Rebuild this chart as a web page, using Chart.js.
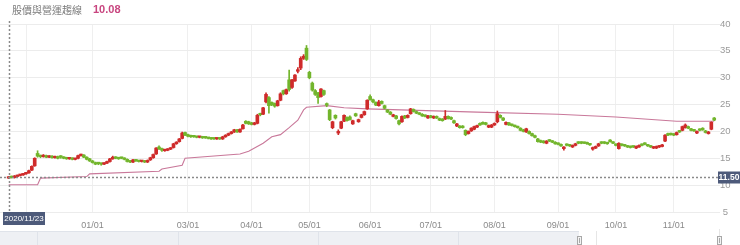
<!DOCTYPE html>
<html>
<head>
<meta charset="utf-8">
<script src="https://cdn.jsdelivr.net/npm/chart.js@4.4.1/dist/chart.umd.min.js"></script>
<style>
  html, body { margin: 0; padding: 0; background: #fff; }
  canvas { display: block; }
</style>
</head>
<body>
<canvas id="chart" width="740" height="245"></canvas>
<script>
// daily candles, index 0 = 2020/11/23
var opens = [
  11.3, 11.6, 11.4, 11.6, 11.8, 11.9, 12.1, 12.3, 12.8, 13.6,
  15.9, 15.5, 15.3, 15.5, 15.2, 15.4, 15.1, 15.3, 15.3, 15.2,
  15.1, 14.9, 15.0, 14.8, 15.0, 15.5, 15.6, 15.2, 14.9, 14.5,
  14.2, 14.1, 14.0, 13.9, 14.1, 14.4, 14.9, 15.2, 15.1, 15.1,
  15.0, 14.8, 14.5, 14.3, 14.7, 14.5, 14.4, 14.5, 14.3, 14.7,
  15.1, 15.8, 17.1, 16.8, 16.4, 16.5, 16.7, 17.0, 17.7, 18.1,
  18.7, 19.8, 19.4, 19.2, 19.1, 19.0, 18.9, 19.0, 18.9, 18.8,
  18.8, 18.7, 18.6, 18.7, 18.6, 19.0, 19.3, 19.6, 19.9, 20.3,
  19.9, 20.5, 21.9, 21.8, 21.6, 21.3, 21.5, 23.3, 23.2, 25.5,
  26.3, 25.4, 25.2, 24.8, 25.8, 27.6, 27.0, 29.6, 28.2, 29.4,
  31.2, 31.8, 33.6, 35.5, 31.0, 29.0, 27.6, 27.2, 26.5, 27.6,
  25.0, 24.0, 20.7, 23.0, 19.7, 20.6, 21.9, 22.6, 22.7, 21.4,
  23.3, 21.8, 22.6, 23.1, 24.2, 26.5, 25.9, 25.4, 24.8, 25.6,
  24.8, 24.0, 23.6, 22.8, 22.9, 22.0, 21.8, 22.9, 22.6, 23.3,
  24.1, 23.7, 23.4, 23.2, 23.0, 22.5, 22.9, 22.5, 22.8, 22.4,
  22.3, 22.3, 22.8, 22.6, 22.0, 21.0, 21.0, 21.0, 20.2, 19.6,
  20.1, 20.4, 20.8, 21.5, 21.7, 21.6, 20.8, 20.8, 21.2, 21.8,
  23.0, 22.5, 21.3, 21.6, 21.3, 21.1, 20.9, 20.6, 20.3, 19.9,
  20.0, 19.6, 19.2, 18.6, 18.3, 18.2, 17.8, 18.4, 18.2, 18.0,
  17.8, 17.6, 16.8, 17.6, 17.5, 17.1, 17.4, 18.0, 18.0, 17.9,
  17.9, 17.7, 16.7, 16.9, 17.3, 18.0, 18.0, 17.9, 18.4, 18.0,
  17.6, 16.8, 17.6, 17.5, 17.3, 17.2, 17.2, 16.9, 17.1, 17.6,
  17.8, 17.5, 17.3, 16.9, 16.9, 17.1, 17.2, 18.2, 19.6, 19.6,
  19.5, 19.4, 20.1, 20.2, 20.7, 20.9, 20.5, 20.3, 19.7, 20.4,
  20.6, 20.1, 19.6, 20.4, 22.5
]
var closes = [
  11.5, 11.4, 11.7, 11.8, 11.9, 12.1, 12.3, 12.7, 13.5, 15.0,
  15.4, 15.3, 15.5, 15.2, 15.4, 15.1, 15.3, 15.0, 15.2, 15.0,
  14.9, 15.0, 14.8, 14.9, 15.5, 15.6, 15.2, 14.8, 14.5, 14.2,
  13.9, 14.0, 13.9, 14.1, 14.4, 14.9, 15.2, 15.0, 14.9, 15.0,
  14.8, 14.4, 14.3, 14.7, 14.5, 14.4, 14.5, 14.3, 14.6, 15.1,
  15.7, 16.9, 16.8, 16.5, 16.6, 16.7, 16.9, 17.7, 18.0, 18.6,
  19.7, 19.3, 19.1, 19.0, 19.0, 18.9, 19.0, 18.8, 18.8, 18.7,
  18.6, 18.6, 18.7, 18.6, 19.0, 19.3, 19.6, 19.9, 20.3, 19.9,
  20.4, 21.2, 21.5, 21.4, 21.3, 21.6, 23.0, 23.1, 24.4, 26.9,
  24.8, 25.0, 24.7, 25.7, 27.0, 27.0, 27.8, 27.8, 29.6, 30.5,
  31.5, 33.6, 34.0, 33.4, 30.0, 27.7, 26.9, 26.3, 27.9, 26.9,
  24.9, 22.2, 21.8, 22.5, 20.0, 21.8, 23.0, 22.0, 22.2, 22.0,
  22.9, 22.2, 23.1, 23.7, 25.8, 25.9, 25.5, 24.9, 25.5, 25.2,
  24.3, 23.6, 23.2, 23.1, 22.4, 21.4, 22.8, 22.5, 23.0, 24.2,
  23.7, 23.4, 23.2, 22.9, 22.8, 22.9, 22.6, 22.8, 22.5, 22.1,
  22.0, 22.8, 22.4, 22.3, 21.6, 21.4, 20.7, 20.7, 19.4, 20.0,
  20.6, 20.9, 21.1, 21.2, 21.4, 21.3, 21.1, 21.2, 21.5, 23.3,
  22.6, 22.1, 21.7, 21.2, 21.1, 20.9, 20.7, 20.2, 20.0, 20.5,
  19.6, 19.2, 18.9, 18.1, 18.0, 17.9, 18.2, 18.2, 18.0, 17.7,
  17.6, 17.3, 17.1, 17.4, 17.3, 17.4, 17.7, 17.8, 17.8, 17.8,
  17.7, 17.5, 17.0, 17.2, 17.7, 17.8, 17.8, 17.7, 18.1, 17.8,
  17.4, 17.8, 17.4, 17.3, 17.1, 17.0, 17.1, 17.2, 17.4, 17.4,
  17.6, 17.3, 17.1, 17.1, 17.2, 17.3, 17.5, 19.3, 19.3, 19.4,
  19.3, 19.8, 19.9, 20.9, 21.2, 20.6, 20.2, 20.1, 20.0, 20.2,
  20.3, 19.8, 19.9, 21.7, 22.1
]
var highs = [
  11.6, 11.7, 11.8, 11.9, 12.0, 12.2, 12.4, 12.8, 13.6, 15.1,
  16.4, 15.6, 15.7, 15.6, 15.5, 15.5, 15.4, 15.4, 15.5, 15.3,
  15.2, 15.1, 15.1, 15.0, 15.6, 15.8, 15.7, 15.3, 15.0, 14.6,
  14.3, 14.2, 14.1, 14.2, 14.5, 15.0, 15.4, 15.3, 15.2, 15.2,
  15.1, 14.9, 14.6, 14.8, 14.8, 14.6, 14.6, 14.6, 14.7, 15.2,
  15.8, 17.0, 17.3, 16.9, 16.7, 16.8, 17.0, 17.8, 18.1, 18.7,
  19.9, 19.9, 19.5, 19.3, 19.2, 19.1, 19.1, 19.1, 19.0, 18.9,
  18.9, 18.8, 18.8, 18.8, 19.1, 19.4, 19.7, 20.0, 20.4, 20.4,
  20.5, 21.3, 22.0, 21.9, 21.7, 21.7, 23.2, 23.4, 24.5, 27.2,
  26.5, 25.5, 25.3, 25.8, 27.2, 27.7, 27.9, 31.4, 29.7, 30.6,
  31.9, 33.9, 34.3, 36.0, 31.2, 29.2, 27.8, 27.3, 28.0, 27.7,
  25.3, 24.1, 21.9, 23.1, 20.3, 21.9, 23.1, 22.7, 22.9, 22.1,
  23.4, 22.3, 23.2, 23.8, 25.9, 26.8, 26.0, 25.5, 25.8, 25.7,
  24.9, 24.1, 23.7, 23.2, 23.0, 22.1, 22.9, 23.0, 23.1, 24.3,
  24.2, 23.8, 23.5, 23.3, 23.1, 23.0, 23.0, 22.9, 22.9, 22.5,
  22.4, 23.9, 22.9, 22.7, 22.1, 21.5, 21.1, 21.1, 20.3, 20.1,
  20.7, 21.0, 21.2, 21.6, 21.8, 21.7, 21.2, 21.3, 21.6, 23.8,
  23.1, 22.6, 21.8, 21.7, 21.4, 21.2, 21.0, 20.7, 20.4, 20.6,
  20.1, 19.7, 19.3, 18.7, 18.4, 18.3, 18.3, 18.5, 18.3, 18.1,
  17.9, 17.7, 17.2, 17.7, 17.6, 17.5, 17.8, 18.1, 18.1, 18.0,
  18.0, 17.8, 17.1, 17.3, 17.8, 18.1, 18.1, 18.0, 18.5, 18.1,
  17.7, 17.9, 17.7, 17.6, 17.4, 17.3, 17.3, 17.3, 17.5, 17.7,
  17.9, 17.6, 17.4, 17.2, 17.3, 17.4, 17.6, 19.4, 19.7, 19.7,
  19.6, 19.9, 20.2, 21.0, 21.4, 21.0, 20.6, 20.4, 20.1, 20.5,
  20.7, 20.2, 20.0, 21.8, 22.6
]
var lows = [
  11.2, 11.3, 11.3, 11.5, 11.7, 11.8, 12.0, 12.2, 12.7, 13.5,
  15.2, 15.1, 15.2, 15.1, 15.1, 15.0, 15.0, 14.9, 15.0, 14.9,
  14.8, 14.8, 14.7, 14.7, 14.9, 15.4, 15.1, 14.7, 14.4, 14.1,
  13.8, 13.8, 13.7, 13.8, 14.0, 14.3, 14.8, 14.9, 14.8, 14.9,
  14.7, 14.3, 14.2, 14.2, 14.4, 14.3, 14.3, 14.2, 14.2, 14.6,
  15.0, 15.7, 16.6, 16.3, 16.3, 16.4, 16.6, 16.9, 17.6, 18.0,
  18.6, 19.2, 19.0, 18.9, 18.9, 18.8, 18.8, 18.7, 18.7, 18.6,
  18.5, 18.5, 18.5, 18.5, 18.5, 18.9, 19.2, 19.5, 19.8, 19.8,
  19.8, 20.4, 21.4, 21.3, 21.2, 21.2, 21.4, 22.9, 23.1, 25.3,
  23.4, 24.8, 24.5, 24.7, 25.7, 26.8, 26.9, 27.5, 28.0, 29.3,
  30.9, 31.5, 33.4, 33.2, 29.8, 27.5, 26.7, 25.2, 26.4, 26.7,
  24.6, 22.0, 20.5, 22.3, 19.4, 20.5, 21.8, 21.9, 22.1, 21.3,
  22.8, 21.7, 22.5, 23.0, 24.1, 25.8, 25.3, 24.8, 24.7, 25.1,
  24.2, 23.5, 23.1, 22.7, 22.3, 21.2, 21.7, 22.4, 22.5, 23.2,
  23.6, 23.3, 23.1, 22.8, 22.7, 22.4, 22.5, 22.4, 22.4, 22.0,
  21.9, 22.2, 22.3, 22.2, 21.5, 20.9, 20.6, 20.6, 19.2, 19.5,
  20.0, 20.3, 20.7, 21.1, 21.3, 21.2, 20.7, 20.7, 21.1, 21.6,
  22.5, 22.0, 21.2, 21.1, 21.0, 20.8, 20.6, 20.1, 19.9, 19.8,
  19.5, 19.1, 18.8, 18.0, 17.9, 17.8, 17.7, 18.1, 17.9, 17.6,
  17.5, 17.2, 16.5, 17.3, 17.2, 17.0, 17.3, 17.7, 17.7, 17.7,
  17.6, 17.4, 16.5, 16.8, 17.2, 17.7, 17.7, 17.6, 18.0, 17.7,
  17.3, 16.7, 17.3, 17.2, 17.0, 16.9, 17.0, 16.8, 17.0, 17.3,
  17.5, 17.2, 17.0, 16.8, 16.8, 17.0, 17.1, 18.1, 19.2, 19.3,
  19.2, 19.3, 19.8, 20.1, 20.6, 20.5, 20.1, 20.0, 19.6, 20.1,
  20.2, 19.7, 19.5, 20.3, 22.0
]

// pink trend line, vertices as [day index, price]
var lineIdx = [0, 10, 11, 27, 28, 52, 53, 60, 61, 80, 83, 88, 91, 94, 97, 100, 102, 103, 110, 116, 124, 162, 190, 210, 231, 244]
var lineVal = [10.08, 10.1, 11.3, 11.6, 12.1, 12.6, 13.0, 13.7, 15.0, 15.8, 16.3, 17.8, 19.0, 19.4, 20.7, 22.1, 24.0, 24.5, 24.8, 24.4, 24.2, 23.6, 23.2, 22.7, 21.9, 21.9]

// month ticks on the day index axis
var tickIdx = [6, 29, 62, 84, 104, 125, 146, 168, 190, 210, 230]
var tickLabels = ['', '01/01', '03/01', '04/01', '05/01', '06/01', '07/01', '08/01', '09/01', '10/01', '11/01']

var yTicks = [5, 10, 15, 20, 25, 30, 35, 40]

var title = '股價與營運趨線'
var titleValue = '10.08'
var crossIdx = 0
var crossDate = '2020/11/23'
var crossPrice = 11.5

var RED = '#cf2b2b'
var GREEN = '#72b52c'
var PINK = '#c9789a'

function candleColor(i) {
  return closes[i] >= opens[i] ? RED : GREEN
}

var wickData = opens.map(function (o, i) { return { x: i, y: [lows[i], highs[i]] } })
var bodyData = opens.map(function (o, i) { return { x: i, y: [o, closes[i]] } })
var lineData = lineIdx.map(function (v, k) { return { x: v, y: lineVal[k] } })
var colors = opens.map(function (o, i) { return candleColor(i) })

Chart.defaults.font.family = '"Liberation Sans", Arial, sans-serif'

var overlay = {
  id: 'overlay',
  beforeDraw: function (chart) {
    var ctx = chart.ctx
    ctx.save()
    ctx.fillStyle = '#fff'
    ctx.fillRect(0, 0, chart.width, chart.height)
    ctx.restore()
  },
  afterDraw: function (chart) {
    var ctx = chart.ctx
    var xs = chart.scales.x
    var ys = chart.scales.y
    var area = chart.chartArea
    ctx.save()

    // header
    ctx.textBaseline = 'middle'
    ctx.textAlign = 'left'
    ctx.fillStyle = '#7a7a7a'
    ctx.font = '10px "Noto Sans CJK TC", sans-serif'
    ctx.fillText(title, 12, 10)
    ctx.fillStyle = '#c8457f'
    ctx.font = 'bold 11px "Liberation Sans", Arial, sans-serif'
    ctx.fillText(titleValue, 93, 10)

    // crosshair
    var cx = Math.round(xs.getPixelForValue(crossIdx)) + 0.5
    var cy = Math.round(ys.getPixelForValue(crossPrice)) + 0.5
    ctx.strokeStyle = '#8a8a8a'
    ctx.lineWidth = 1.5
    ctx.setLineDash([2, 2])
    ctx.beginPath()
    ctx.moveTo(cx, 21)
    ctx.lineTo(cx, area.bottom)
    ctx.moveTo(0, cy)
    ctx.lineTo(area.right - 2, cy)
    ctx.stroke()
    ctx.setLineDash([])

    ctx.fillStyle = '#4d5a7a'
    ctx.fillRect(718, cy - 6, 22, 12)
    ctx.fillRect(3, area.bottom, 42, 13)
    ctx.fillStyle = '#fff'
    ctx.textAlign = 'center'
    ctx.font = 'bold 8.5px "Liberation Sans", Arial, sans-serif'
    ctx.fillText(crossPrice.toFixed(2), 729, cy + 0.5)
    ctx.font = '8px "Liberation Sans", Arial, sans-serif'
    ctx.fillText(crossDate, 24, area.bottom + 7)

    // navigator strip
    var ny = 231
    ctx.fillStyle = '#eef0f4'
    ctx.fillRect(0, ny, 579, chart.height - ny)
    ctx.strokeStyle = '#dfe3ea'
    ctx.lineWidth = 1
    ctx.beginPath()
    ctx.moveTo(0, ny + 0.5)
    ctx.lineTo(579, ny + 0.5)
    ;[37, 178, 318, 458].forEach(function (gx) {
      ctx.moveTo(gx + 0.5, ny)
      ctx.lineTo(gx + 0.5, chart.height)
    })
    ctx.stroke()
    ctx.strokeStyle = '#e6e6e6'
    ctx.beginPath()
    ctx.moveTo(596.5, ny)
    ctx.lineTo(596.5, chart.height)
    ctx.moveTo(719.5, ny - 2)
    ctx.lineTo(719.5, ny + 5)
    ctx.stroke()
    ;[577, 717].forEach(function (hx) {
      ctx.fillStyle = '#f4f4f4'
      ctx.strokeStyle = '#a8a8a8'
      ctx.fillRect(hx, ny + 5, 5, 9)
      ctx.strokeRect(hx + 0.5, ny + 5.5, 4, 8)
      ctx.beginPath()
      ctx.moveTo(hx + 2.5, ny + 7)
      ctx.lineTo(hx + 2.5, ny + 12)
      ctx.stroke()
    })
    ctx.restore()
  }
}

new Chart(document.getElementById('chart'), {
  type: 'bar',
  data: {
    datasets: [
      {
        type: 'line',
        data: lineData,
        borderColor: PINK,
        borderWidth: 1.1,
        pointRadius: 0,
        tension: 0,
        order: 3
      },
      {
        data: wickData,
        backgroundColor: colors,
        barThickness: 1,
        grouped: false,
        order: 2
      },
      {
        data: bodyData,
        backgroundColor: colors,
        barThickness: 3,
        minBarLength: 1.5,
        grouped: false,
        order: 1
      }
    ]
  },
  options: {
    responsive: false,
    animation: false,
    layout: { padding: { top: 24, left: 0, right: 0, bottom: 0 } },
    plugins: { legend: { display: false }, tooltip: { enabled: false } },
    scales: {
      x: {
        type: 'linear',
        offset: false,
        min: -3,
        max: 246,
        afterBuildTicks: function (scale) {
          scale.ticks = tickIdx.map(function (v) { return { value: v } })
        },
        afterFit: function (scale) { scale.height = 33 },
        ticks: {
          autoSkip: false,
          maxRotation: 0,
          padding: 8,
          color: '#8a8a8a',
          font: { size: 9 },
          callback: function (value, index) { return tickLabels[index] }
        },
        grid: { color: '#efefef', drawTicks: false, offset: false },
        border: { display: false }
      },
      y: {
        position: 'right',
        min: 5,
        max: 40,
        afterBuildTicks: function (scale) {
          scale.ticks = yTicks.map(function (v) { return { value: v } })
        },
        afterFit: function (scale) { scale.width = 20 },
        ticks: {
          color: '#9a9a9a',
          font: { size: 9.5 },
          crossAlign: 'center',
          padding: 0
        },
        grid: { color: '#ececec', drawTicks: false },
        border: { display: false }
      }
    }
  },
  plugins: [overlay]
})
</script>
</body>
</html>
